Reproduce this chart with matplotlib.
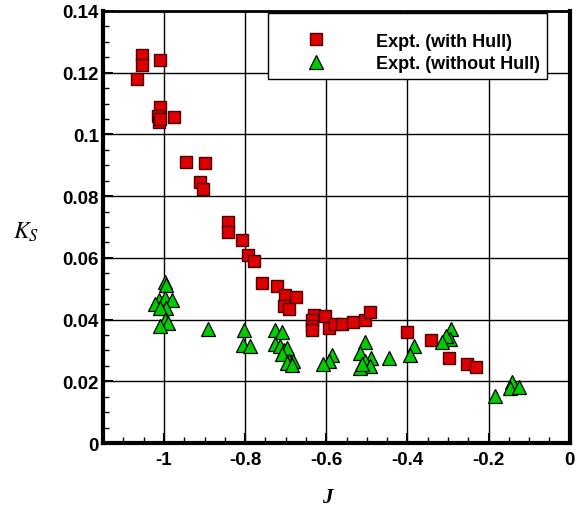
import matplotlib.pyplot as plt
from matplotlib.ticker import MultipleLocator

plt.rcParams['font.family'] = 'Liberation Sans'
plt.rcParams['mathtext.fontset'] = 'stix'

# Expt. (with Hull)
j_hull = [-1.054, -1.054, -1.009, -1.066, -1.009, -1.014, -1.011, -1.009, -0.974,
          -0.946, -0.899, -0.910, -0.903, -0.843, -0.843, -0.807, -0.792, -0.778,
          -0.759, -0.722, -0.701, -0.675, -0.705, -0.691, -0.631, -0.602, -0.634,
          -0.634, -0.634, -0.594, -0.578, -0.561, -0.533, -0.505, -0.493, -0.402,
          -0.341, -0.298, -0.254, -0.230]
ks_hull = [0.1257, 0.1226, 0.1242, 0.1180, 0.1088, 0.1061, 0.1041, 0.1050, 0.1058,
           0.0910, 0.0906, 0.0846, 0.0823, 0.0715, 0.0683, 0.0658, 0.0610, 0.0589,
           0.0518, 0.0509, 0.0480, 0.0474, 0.0445, 0.0435, 0.0416, 0.0413, 0.0397,
           0.0380, 0.0366, 0.0374, 0.0385, 0.0385, 0.0391, 0.0397, 0.0424, 0.0361,
           0.0333, 0.0274, 0.0256, 0.0245]

# Expt. (without Hull)
j_nohull = [-0.998, -0.996, -1.012, -0.998, -0.981, -1.022, -0.996, -1.010, -0.998,
            -0.990, -1.010, -0.892, -0.802, -0.804, -0.789, -0.726, -0.709, -0.726,
            -0.715, -0.705, -0.697, -0.709, -0.691, -0.681, -0.697, -0.685, -0.586,
            -0.594, -0.607, -0.504, -0.516, -0.489, -0.504, -0.493, -0.518, -0.512,
            -0.446, -0.384, -0.394, -0.292, -0.294, -0.305, -0.315, -0.183, -0.142,
            -0.146, -0.125]
ks_nohull = [0.0521, 0.0512, 0.0465, 0.0470, 0.0465, 0.0449, 0.0438, 0.0438, 0.0400,
             0.0390, 0.0379, 0.0370, 0.0367, 0.0318, 0.0313, 0.0367, 0.0359, 0.0321,
             0.0315, 0.0300, 0.0307, 0.0288, 0.0267, 0.0267, 0.0259, 0.0253, 0.0285,
             0.0267, 0.0256, 0.0326, 0.0292, 0.0274, 0.0267, 0.0249, 0.0242, 0.0256,
             0.0274, 0.0315, 0.0285, 0.0369, 0.0337, 0.0346, 0.0326, 0.0153, 0.0199,
             0.0177, 0.0180]

fig = plt.figure(figsize=(5.79, 5.10), dpi=100)
ax = fig.add_axes([0.178, 0.1294, 0.806, 0.8471])

ax.grid(True, which='major', color='black', linewidth=1.0)
ax.set_axisbelow(True)

ax.plot(j_hull, ks_hull, 's', color='#dd0000', markeredgecolor='#4a0000',
        markeredgewidth=1.0, markersize=8.5, label='Expt. (with Hull)', zorder=3)
ax.plot(j_nohull, ks_nohull, '^', color='#00cc00', markeredgecolor='black',
        markeredgewidth=0.9, markersize=9.5, label='Expt. (without Hull)', zorder=3)

ax.set_xlim(-1.15, 0)
ax.set_ylim(0, 0.14)
ax.xaxis.set_minor_locator(MultipleLocator(0.05))
ax.yaxis.set_minor_locator(MultipleLocator(0.005))
ax.set_xticks([-1, -0.8, -0.6, -0.4, -0.2, 0])
ax.set_xticklabels(['-1', '-0.8', '-0.6', '-0.4', '-0.2', '0'])
ax.set_yticks([0, 0.02, 0.04, 0.06, 0.08, 0.1, 0.12, 0.14])
ax.set_yticklabels(['0', '0.02', '0.04', '0.06', '0.08', '0.1', '0.12', '0.14'])

ax.tick_params(which='major', direction='in', length=7, width=1.5,
               labelsize=13.5, top=False, right=False)
ax.tick_params(axis='x', which='major', pad=6)
ax.tick_params(axis='y', which='major', pad=3)
ax.tick_params(which='minor', direction='in', length=4, width=1.0,
               top=False, right=False)
for lab in ax.get_xticklabels() + ax.get_yticklabels():
    lab.set_fontweight('bold')

for side, w in [('left', 3), ('bottom', 3), ('right', 3), ('top', 2)]:
    ax.spines[side].set_linewidth(w)

fig.text(0.565, 0.0235, 'J', fontfamily='Liberation Serif', fontstyle='italic',
         fontweight='bold', fontsize=15, ha='center', va='center')
fig.text(0.045, 0.545, '$K_S$', fontsize=17, ha='center', va='center')

leg = ax.legend(loc='upper left', bbox_to_anchor=(0.353, 0.995),
                prop={'weight': 'bold', 'size': 13}, frameon=True, fancybox=False,
                edgecolor='black', handletextpad=1.1, handlelength=4.5,
                borderpad=0.4, labelspacing=0.3, borderaxespad=0,
                title=' ', title_fontsize=5)
leg.get_frame().set_linewidth(1.0)
leg.get_frame().set_alpha(1)

fig.savefig('out.png', dpi=100)
